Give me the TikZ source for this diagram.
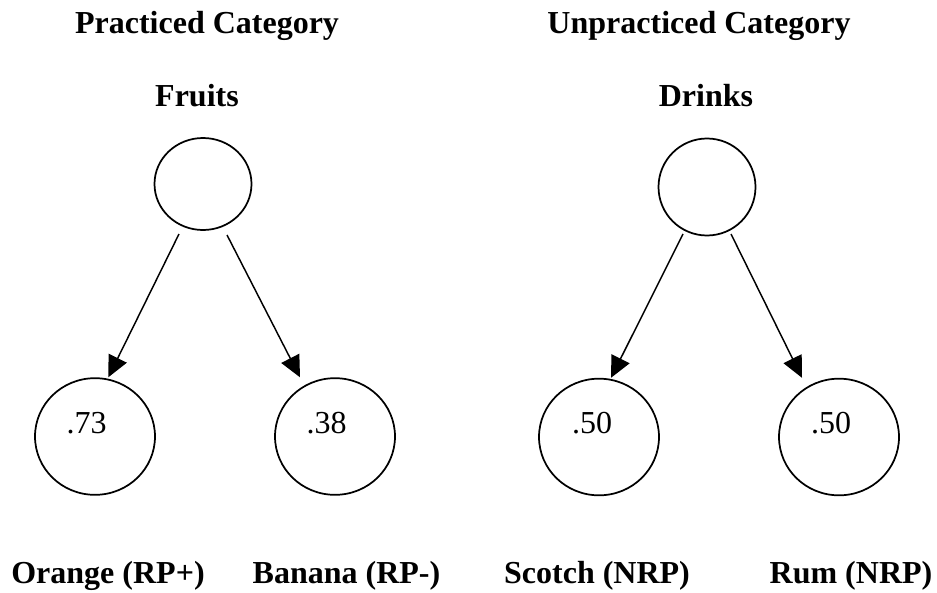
\documentclass[tikz,border=0pt]{standalone}
\usepackage{fontspec}
\setmainfont{Liberation Serif}
\usetikzlibrary{shapes.geometric,arrows.meta,calc}
\begin{document}
\begin{tikzpicture}[x=0.75pt,y=-0.75pt,
  txt/.style={inner sep=0pt,anchor=base,font=\fontsize{24}{28}\selectfont},
  heading/.style={inner sep=0pt,anchor=base,font=\fontsize{24}{28}\selectfont\bfseries},
  unit/.style={draw,ellipse,line width=1.3pt,inner sep=0pt},
  topunit/.style={unit,minimum width=72.75pt},
  leafunit/.style={unit,minimum width=90pt,minimum height=87.5pt},
  link/.style={line width=1.1pt,-{Triangle[length=16pt,width=15pt]}}]
\useasboundingbox (0,0) rectangle (937,592);

% column headings
\node[heading] (pc) at (207,33.3) {Practiced Category};
\node[heading] (uc) at (699,33.3) {Unpracticed Category};
\node[heading] (fl) at (197,106) {Fruits};
\node[heading] (dl) at (706,106) {Drinks};

% category units
\node[topunit,minimum height=69pt] (fruits) at (203,184) {};
\node[topunit,minimum height=72.75pt] (drinks) at (707,187) {};

% exemplar units
\node[leafunit] (orange) at (95,436.5) {};
\node[leafunit] (banana) at (335,436.5) {};
\node[leafunit] (scotch) at (599,437) {};
\node[leafunit] (rum) at (839,437) {};

% activation values
\node[txt] (v73) at (86.5,433) {.73};
\node[txt] (v38) at (326.5,433) {.38};
\node[txt] (v50a) at (592,433) {.50};
\node[txt] (v50b) at (831,433) {.50};

% exemplar names
\node[heading] (ol) at (108,583) {Orange (RP+)};
\node[heading] (bl) at (346.5,583) {Banana (RP-)};
\node[heading] (sl) at (597,583) {Scotch (NRP)};
\node[heading] (rl) at (851,583) {Rum (NRP)};

% arrow end points
\coordinate (f1) at ($(fruits.center)+(-24,50)$);
\coordinate (f2) at ($(fruits.center)+(24,51)$);
\coordinate (d1) at ($(drinks.center)+(-24,47)$);
\coordinate (d2) at ($(drinks.center)+(24,47)$);
\coordinate (t1) at ($(orange.north)+(13.3,0)$);
\coordinate (t2) at ($(banana.north)+(-35,0)$);
\coordinate (t3) at ($(scotch.north)+(12,0)$);
\coordinate (t4) at ($(rum.north)+(-37,0)$);

% links
\draw[link] (f1) -- (t1);
\draw[link] (f2) -- (t2);
\draw[link] (d1) -- (t3);
\draw[link] (d2) -- (t4);
\end{tikzpicture}
\end{document}
